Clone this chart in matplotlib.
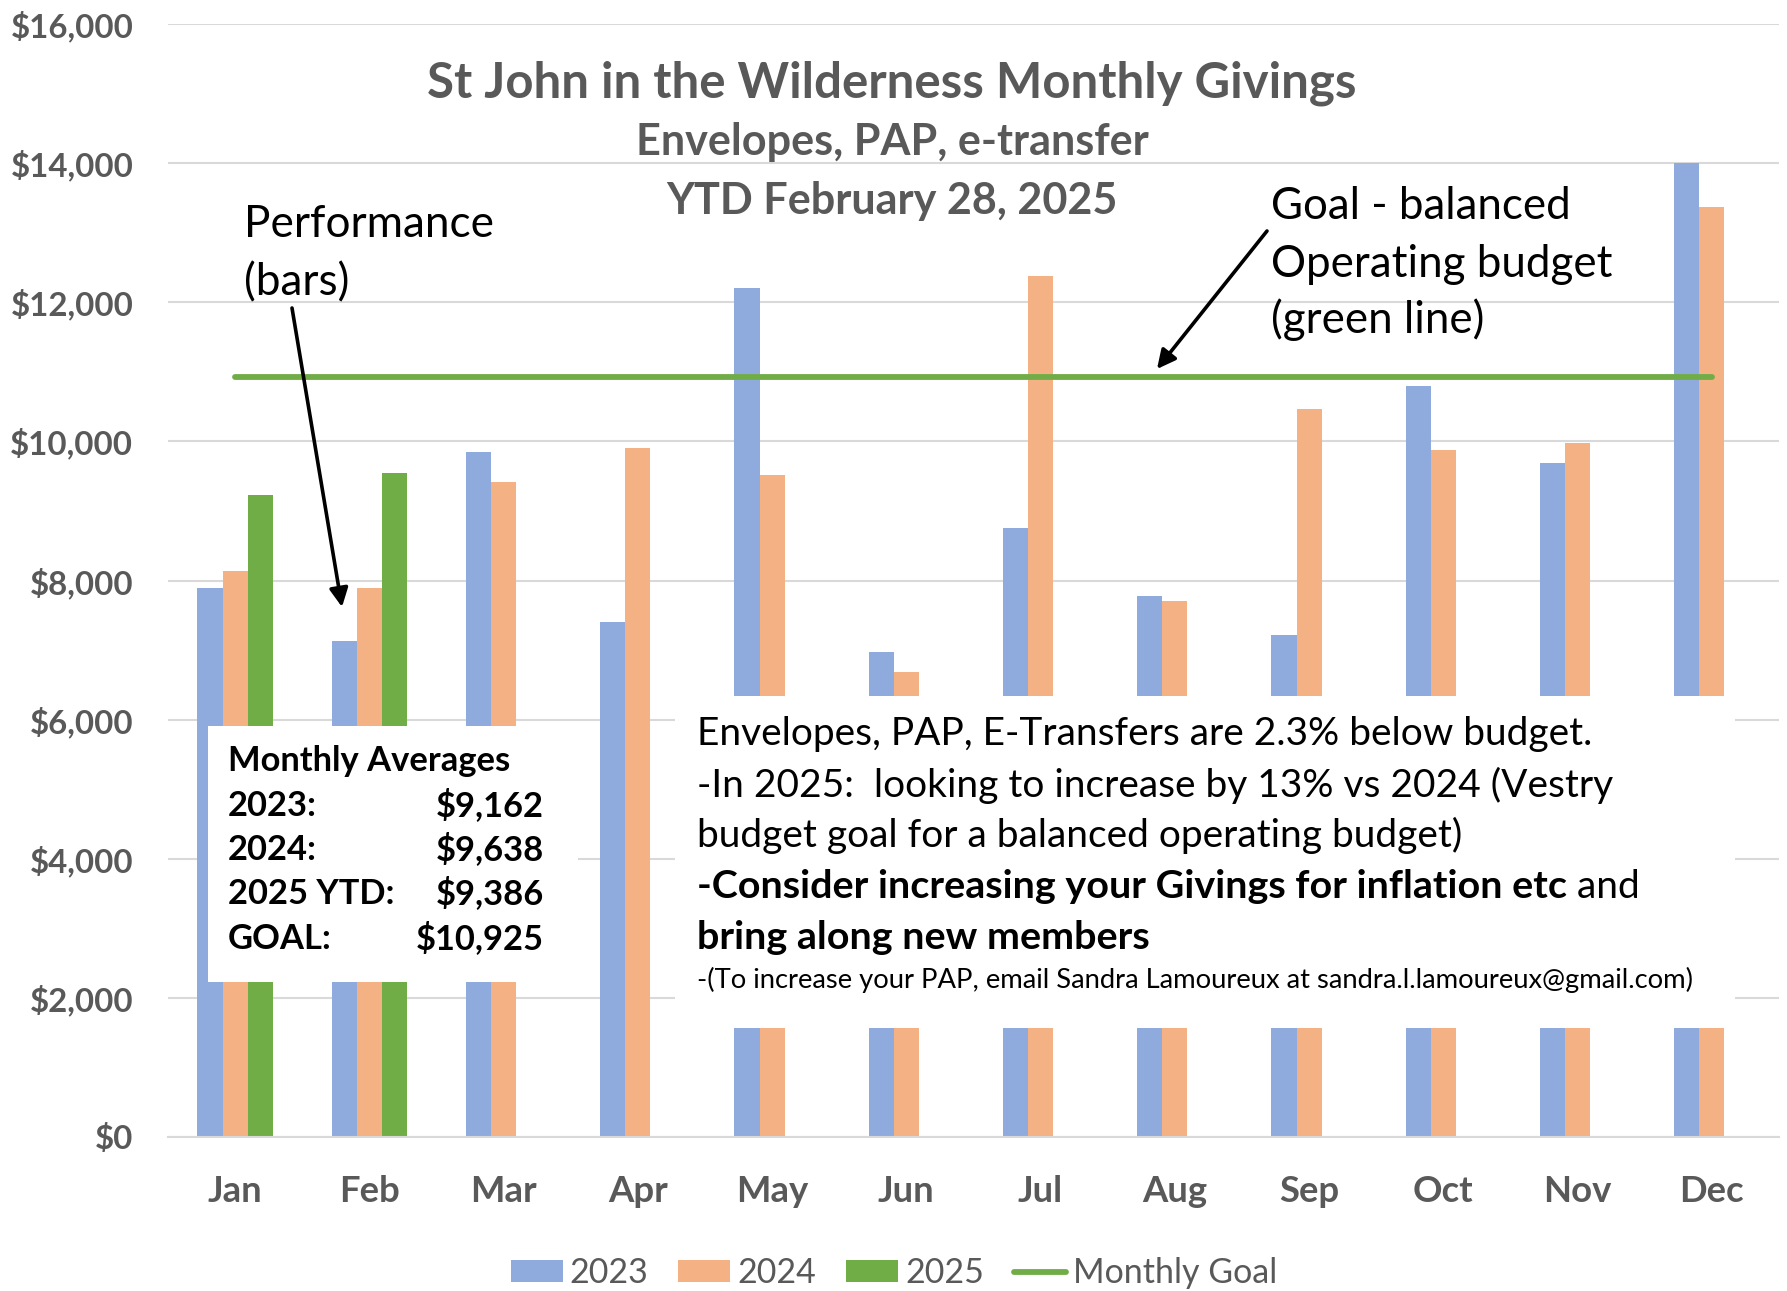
import matplotlib
matplotlib.use('Agg')
import matplotlib.pyplot as plt
import numpy as np
from matplotlib.patches import Rectangle
from matplotlib.font_manager import FontProperties

# ---------------- data ----------------
months = ['Jan', 'Feb', 'Mar', 'Apr', 'May', 'Jun', 'Jul', 'Aug', 'Sep', 'Oct', 'Nov', 'Dec']
givings_2023 = [7890, 7130, 9850, 7410, 12200, 6970, 8750, 7770, 7210, 10800, 9690, 14000]
givings_2024 = [8130, 7890, 9420, 9910, 9520, 6690, 12380, 7710, 10470, 9880, 9980, 13370]
givings_2025 = [9230, 9540] + [np.nan] * 10
monthly_goal = 10925
series_labels = ['2023', '2024', '2025', 'Monthly Goal']
yticks = list(range(0, 16001, 2000))

title = 'St John in the Wilderness Monthly Givings'
subtitle1 = 'Envelopes, PAP, e-transfer'
subtitle2 = 'YTD February 28, 2025'
perf_lines = ['Performance', '(bars)']
goal_lines = ['Goal - balanced', 'Operating budget', '(green line)']
avg_header = 'Monthly Averages'
avg_names = ['2023:', '2024:', '2025 YTD:', 'GOAL:']
avg_values = ['$9,162', '$9,638', '$9,386', '$10,925']
note_lines = ['Envelopes, PAP, E-Transfers are 2.3% below budget.',
              '-In 2025:  looking to increase by 13% vs 2024 (Vestry',
              'budget goal for a balanced operating budget)']
note_bold = '-Consider increasing your Givings for inflation etc'
note_and = ' and'
note_bold2 = 'bring along new members'
note_small = '-(To increase your PAP, email Sandra Lamoureux at sandra.l.lamoureux@gmail.com)'

# ---------------- style ----------------
W, H = 1787, 1291
FAM = ['Lato', 'DejaVu Sans']
plt.rcParams['font.family'] = FAM
C23, C24, C25 = '#8FAADC', '#F4B183', '#70AD47'
GRID = '#D9D9D9'
TXT = '#595959'

fig = plt.figure(figsize=(W / 100, H / 100), dpi=100)
r = fig.canvas.get_renderer()


def fit_size(s, target_px, weight='normal', ref=20.0):
    fp = FontProperties(family=FAM, weight=weight, size=ref)
    w, h, d = r.get_text_width_height_descent(s, fp, ismath=False)
    return ref * target_px / w


def fx(x):
    return x / W


def fy(y):
    return 1 - y / H


def T(x, y, s, **kw):
    return fig.text(fx(x), fy(y), s, transform=fig.transFigure, **kw)


# ---------------- axes ----------------
ax = fig.add_axes([fx(168), fy(1137), (1779 - 168) / W, (1137 - 24) / H])
x = np.arange(len(months))
bw = 0.188
b23 = ax.bar(x - bw, givings_2023, bw, color=C23, label=series_labels[0], zorder=2)
b24 = ax.bar(x, givings_2024, bw, color=C24, label=series_labels[1], zorder=2)
b25 = ax.bar(x + bw, givings_2025, bw, color=C25, label=series_labels[2], zorder=2)
goal_line, = ax.plot(x, [monthly_goal] * len(months), color=C25, lw=4.2, solid_capstyle='round',
                     label=series_labels[3], zorder=3)

ax.set_xlim(-0.5, len(months) - 0.5)
ax.set_ylim(0, 16000)
ax.set_yticks(yticks)
ax.set_yticklabels(['${:,.0f}'.format(v) for v in yticks])
ax.set_xticks(x)
ax.set_xticklabels(months)
ax.yaxis.grid(True, color=GRID, lw=1.5)
ax.set_axisbelow(True)
for s in ['left', 'right', 'top']:
    ax.spines[s].set_visible(False)
ax.spines['bottom'].set_color(GRID)
ax.spines['bottom'].set_linewidth(1.5)

ytick_size = fit_size('$16,000', 123, 'bold')
xtick_size = fit_size('May', 72, 'bold')
ax.tick_params(axis='y', length=0, pad=25, labelsize=ytick_size, labelcolor=TXT)
ax.tick_params(axis='x', length=0, pad=27, labelsize=xtick_size, labelcolor=TXT)
for t in ax.get_xticklabels() + ax.get_yticklabels():
    t.set_fontweight('bold')

# ---------------- legend ----------------
leg_size = fit_size('Monthly Goal', 204)
lpx = leg_size * 100 / 72
leg = ax.legend([b23, b24, b25, goal_line], series_labels,
                loc='center', bbox_to_anchor=(fx(894), fy(1273)), bbox_transform=fig.transFigure,
                ncol=4, frameon=False, fontsize=leg_size, labelcolor=TXT,
                handlelength=52 / lpx, handleheight=21 / lpx, handletextpad=7 / lpx,
                columnspacing=30 / lpx, borderpad=0, borderaxespad=0)

# ---------------- titles ----------------
ts = fit_size(title, 929, 'bold')
T(892, 98, title, ha='center', va='baseline', fontsize=ts, fontweight='bold', color=TXT)
ss = fit_size(subtitle1, 513, 'bold')
T(892, 155, subtitle1, ha='center', va='baseline', fontsize=ss, fontweight='bold', color=TXT)
T(892, 214, subtitle2, ha='center', va='baseline', fontsize=ss, fontweight='bold', color=TXT)

# ---------------- annotations ----------------
ps = fit_size(perf_lines[0], 250)
T(244, 237, perf_lines[0], ha='left', va='baseline', fontsize=ps, color='black')
T(244, 295, perf_lines[1], ha='left', va='baseline', fontsize=ps, color='black')
gs = fit_size(goal_lines[1], 342)
for yy, s in zip([219, 277, 333], goal_lines):
    T(1271, yy, s, ha='left', va='baseline', fontsize=gs, color='black')

arrow_kw = dict(arrowstyle='-|>', color='black', lw=2.6, mutation_scale=28, shrinkA=0, shrinkB=0)
ax.annotate('', xy=(fx(342), fy(607)), xytext=(fx(292), fy(308)),
            xycoords='figure fraction', textcoords='figure fraction', arrowprops=arrow_kw, zorder=6)
ax.annotate('', xy=(fx(1157), fy(369)), xytext=(fx(1267), fy(231)),
            xycoords='figure fraction', textcoords='figure fraction', arrowprops=arrow_kw, zorder=6)

# ---------------- white boxes ----------------
fig.add_artist(Rectangle((fx(208), fy(982)), (578 - 208) / W, (982 - 726) / H,
                         transform=fig.transFigure, facecolor='white', edgecolor='none', zorder=4))
fig.add_artist(Rectangle((fx(675), fy(1028)), (1735 - 675) / W, (1028 - 696) / H,
                         transform=fig.transFigure, facecolor='white', edgecolor='none', zorder=4))

# monthly averages box
ms = fit_size(avg_header, 282, 'bold')
T(228, 771, avg_header, ha='left', va='baseline', fontsize=ms, fontweight='bold', color='black', zorder=5)
for yy, n, v in zip([816, 860, 904, 949], avg_names, avg_values):
    T(228, yy, n, ha='left', va='baseline', fontsize=ms, fontweight='bold', color='black', zorder=5)
    T(544, yy, v, ha='right', va='baseline', fontsize=ms, fontweight='bold', color='black', zorder=5)

# note box
ns = fit_size(note_lines[0], 898)
for yy, s in zip([745, 797, 847], note_lines):
    T(697, yy, s, ha='left', va='baseline', fontsize=ns, color='black', zorder=5)
bs = fit_size(note_bold, 870, 'bold')
tb = T(697, 898, note_bold, ha='left', va='baseline', fontsize=bs, fontweight='bold', color='black', zorder=5)
T(697, 949, note_bold2, ha='left', va='baseline', fontsize=bs, fontweight='bold', color='black', zorder=5)
fig.canvas.draw()
bb = tb.get_window_extent(r)
T(bb.x1, 898, note_and, ha='left', va='baseline', fontsize=ns, color='black', zorder=5)
sms = fit_size(note_small, 1000)
T(697, 988, note_small, ha='left', va='baseline', fontsize=sms, color='black', zorder=5)

fig.savefig('out.png', dpi=100)
